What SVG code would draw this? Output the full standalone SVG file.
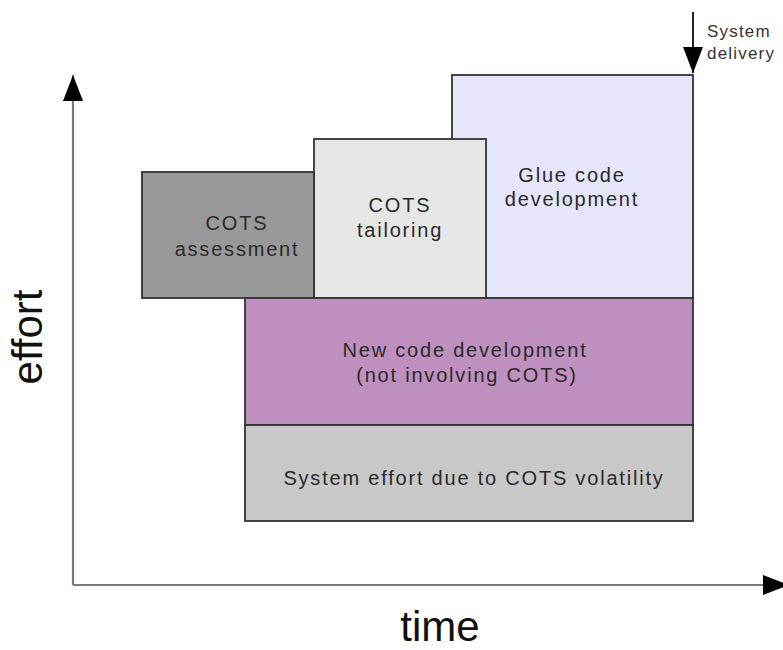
<svg xmlns="http://www.w3.org/2000/svg" width="783" height="650" viewBox="0 0 783 650">
  <style>
    .box { stroke: #333333; stroke-width: 1.8; }
    .lbl { font-family: "Liberation Sans", Arial, sans-serif; font-size: 20px; letter-spacing: 1.8px; fill: #2a2a2a; text-anchor: middle; }
    .axis { stroke: #7a7a7a; stroke-width: 2.2; fill: none; }
    .big { font-family: "Liberation Sans", Arial, sans-serif; font-size: 42px; fill: #111111; text-anchor: middle; }
    .small { font-family: "Liberation Sans", Arial, sans-serif; font-size: 17px; letter-spacing: 1.2px; fill: #333333; }
  </style>
  <defs>
    <marker id="arrow" viewBox="0 0 26 20" refX="26" refY="10" markerWidth="26" markerHeight="20" markerUnits="userSpaceOnUse" orient="auto">
      <path d="M0,0 L26,10 L0,20 Z" fill="#000000"/>
    </marker>
  </defs>
  <rect width="783" height="650" fill="#ffffff"/>

  <g id="glue-code">
    <rect class="box" x="452" y="75" width="241" height="223" fill="#e6e6fa"/>
    <text class="lbl" x="572" y="182">Glue code</text>
    <text class="lbl" x="572" y="206">development</text>
  </g>
  <g id="cots-tailoring">
    <rect class="box" x="314" y="139" width="172" height="159" fill="#e6e6e6"/>
    <text class="lbl" x="400" y="212">COTS</text>
    <text class="lbl" x="400" y="237">tailoring</text>
  </g>
  <g id="cots-assessment">
    <rect class="box" x="142" y="172" width="172" height="126" fill="#999999"/>
    <text class="lbl" x="237" y="230">COTS</text>
    <text class="lbl" x="237" y="256">assessment</text>
  </g>
  <g id="new-code">
    <rect class="box" x="245" y="298" width="448" height="127" fill="#bf8fbf"/>
    <text class="lbl" x="465" y="357">New code development</text>
    <text class="lbl" x="467" y="382">(not involving COTS)</text>
  </g>
  <g id="cots-volatility">
    <rect class="box" x="245" y="425" width="448" height="96" fill="#c8c8c8"/>
    <text class="lbl" x="474" y="485">System effort due to COTS volatility</text>
  </g>

  <g id="connectors">
    <line class="axis" x1="73" y1="585" x2="73" y2="75" marker-end="url(#arrow)"/>
    <line class="axis" x1="73" y1="585" x2="789" y2="585" marker-end="url(#arrow)"/>
    <line x1="693" y1="12" x2="693" y2="73" stroke="#222222" stroke-width="2" marker-end="url(#arrow)"/>
  </g>

  <g id="labels">
    <text class="big" x="440" y="641">time</text>
    <text class="big" transform="translate(42,337) rotate(-90)" x="0" y="0">effort</text>
    <text class="small" x="707" y="37">System</text>
    <text class="small" x="707" y="59">delivery</text>
  </g>
</svg>
